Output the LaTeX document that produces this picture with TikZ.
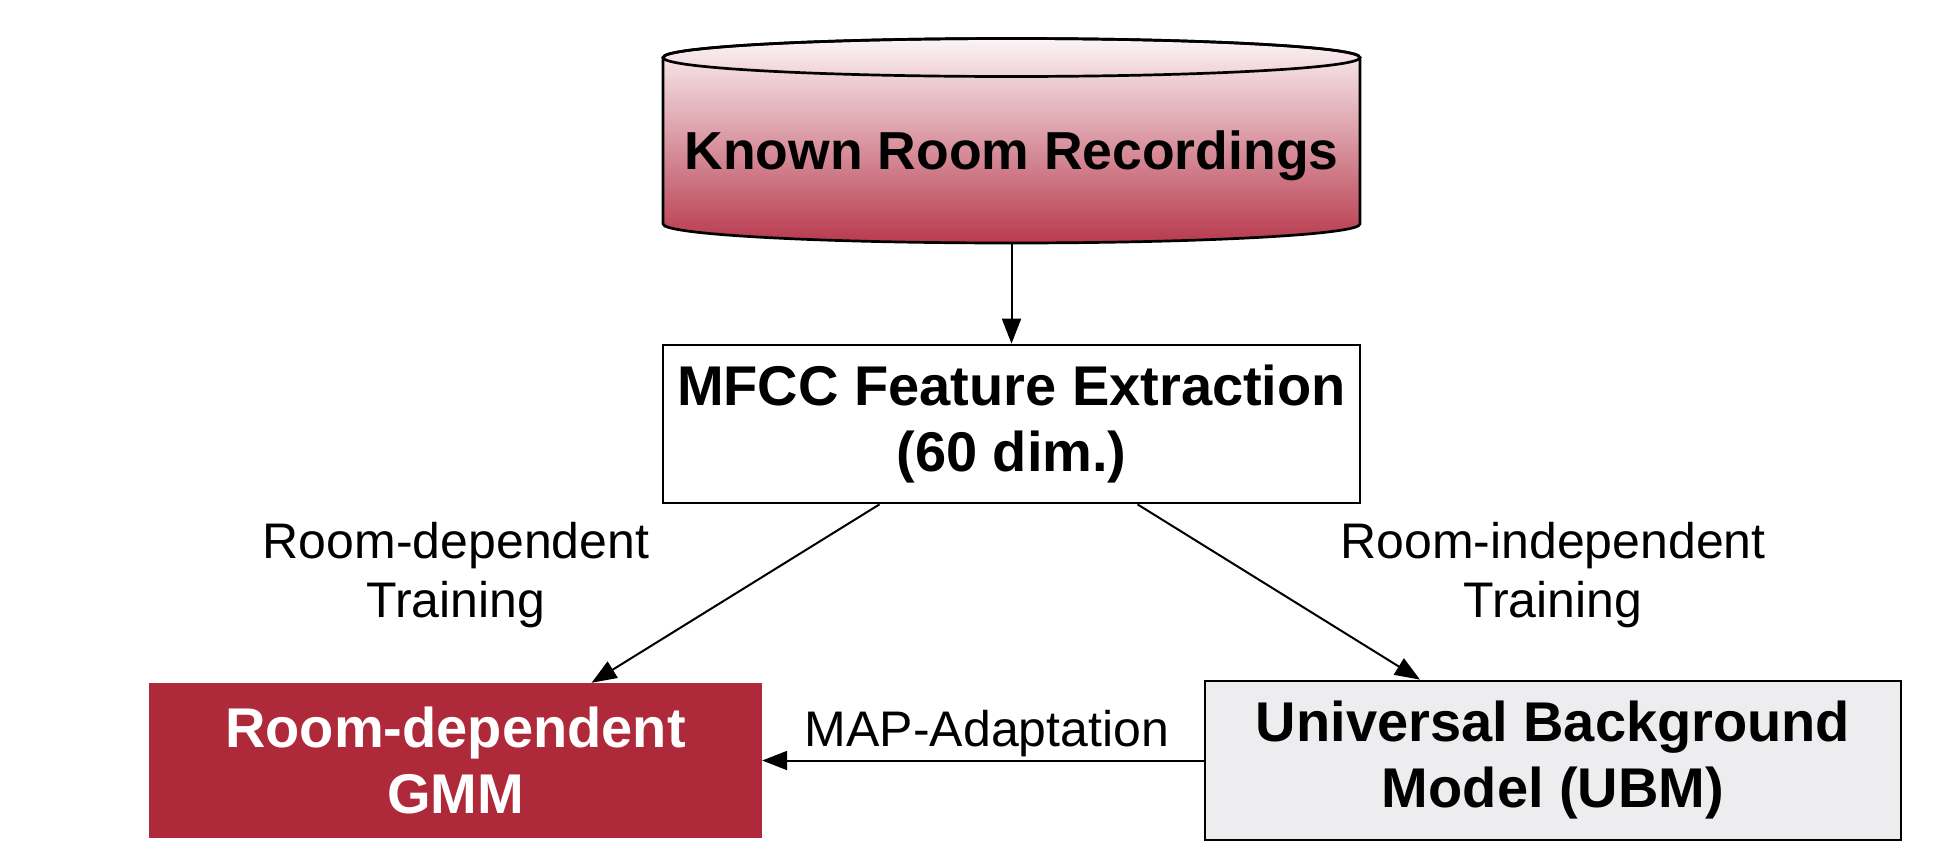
\documentclass[tikz,border=0pt]{standalone}
\usepackage{fontspec}
\setmainfont{Liberation Sans}
\usetikzlibrary{arrows.meta,calc}
\definecolor{crimson}{RGB}{174,42,58}
\definecolor{ubmgray}{RGB}{237,237,240}
\definecolor{cyltop}{RGB}{251,244,246}
\definecolor{cylmid}{RGB}{232,188,196}
\definecolor{cylbot}{RGB}{184,58,78}
\begin{document}
\begin{tikzpicture}[x=1pt,y=-1pt,
  boldtxt/.style={font=\fontsize{56}{66}\selectfont\bfseries, align=center},
  lbl/.style={font=\fontsize{50}{59}\selectfont, align=center},
  plainbox/.style={draw=black, line width=2.7pt, fill=white, boldtxt, inner sep=0pt},
  graybox/.style={draw=black, line width=2.7pt, fill=ubmgray, boldtxt, inner sep=0pt},
  redbox/.style={fill=crimson, text=white, boldtxt, inner sep=0pt},
  arr/.style={line width=2pt, -{Triangle[length=25pt,width=19pt]}}]
\useasboundingbox (0,0) rectangle (1944,855);
\fill[white] (0,0) rectangle (1944,855);
% cylinder
\shade[top color=cyltop, middle color=cylmid, bottom color=cylbot]
  (663,57.5) arc[start angle=180, end angle=360, x radius=348.5, y radius=19]
  -- (1360,224) arc[start angle=0, end angle=180, x radius=348.5, y radius=19] -- cycle;
\draw[line width=2.7pt, line join=round]
  (663,57.5) arc[start angle=180, end angle=360, x radius=348.5, y radius=19]
  -- (1360,224) arc[start angle=0, end angle=180, x radius=348.5, y radius=19] -- cycle;
\draw[line width=2.7pt] (1011.5,57.5) ellipse[x radius=348.5, y radius=19];
\node[font=\fontsize{53.5}{64}\selectfont\bfseries, anchor=base] (rec) at (1011.5,169) {Known Room Recordings};
\coordinate (recbot) at (1011.5,243);
% boxes
\node[plainbox, minimum width=697pt, minimum height=158pt] (mfcc) at (1011.5,424)
  {MFCC Feature Extraction\\(60 dim.)};
\node[redbox, minimum width=613pt, minimum height=155pt] (gmm) at (455.5,760.5)
  {Room-dependent\\GMM};
\node[graybox, minimum width=696pt, minimum height=159pt] (ubm) at (1553,760.5)
  {Universal Background\\Model (UBM)};
% labels
\node[lbl] (ldep) at (456,575) {Room-dependent\\Training};
\node[lbl] (lind) at (1553,575) {Room-independent\\Training};
% connectors
\draw[arr] (recbot) -- (mfcc.north);
\draw[arr] ($(mfcc.south)+(-132,0)$) -- ($(gmm.north)+(136,0)$);
\draw[arr] ($(mfcc.south)+(126,0)$) -- ($(ubm.north)+(-133,0)$);
\draw[arr] (ubm.west) -- node[lbl, anchor=base, yshift=14pt, xshift=4pt] (lmap) {MAP-Adaptation} (gmm.east);
\end{tikzpicture}
\end{document}
